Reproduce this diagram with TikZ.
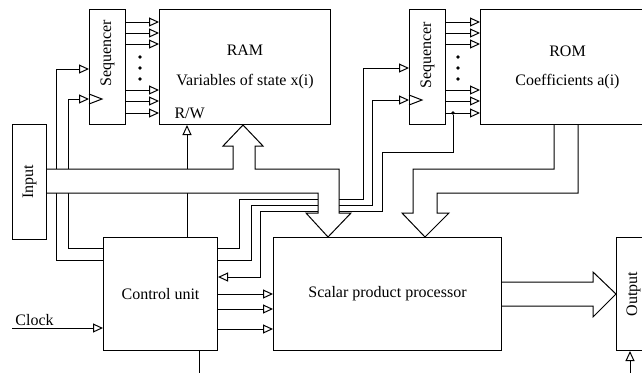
\documentclass[tikz,border=0pt]{standalone}
\usepackage{fontspec}
\setmainfont{Liberation Serif}
\usetikzlibrary{arrows.meta, positioning}

\begin{document}
\begin{tikzpicture}[
    x=0.5pt, y=-0.5pt,
    font=\fontsize{8}{9.6}\selectfont,
    line width=0.5pt,
    block/.style={
      draw,
      align=center,
      inner sep=0pt,
      minimum height=57.5pt
    },
    seqbox/.style={block, minimum width=18pt},
    line/.style={-{Triangle[open, length=5pt, width=4.5pt]}},
    bus/.style={draw},
    dot/.style={circle, fill, inner sep=0pt, minimum size=1.8pt}
  ]

  \useasboundingbox (0,0) rectangle (642,372);

  % ===================== memories =====================
  \node[seqbox, anchor=north west] (seqA) at (89,9) {};
  \node[block, minimum width=85.5pt, right=16.5pt of seqA] (ram) {RAM\\[5pt]Variables of state x(i)};
  \node[seqbox, right=39pt of ram] (seqB) {};
  \node[block, minimum width=87pt, right=17pt of seqB] (rom) {ROM\\[5pt]Coefficients a(i)};

  \node[rotate=90] at ([yshift=7pt]seqA.center) {Sequencer};
  \node[rotate=90] at ([yshift=6pt]seqB.center) {Sequencer};
  \node[anchor=base west, inner sep=0pt] at ([shift={(15,-7)}]ram.south west) {R/W};

  % ===================== processing =====================
  \node[block, minimum width=17pt, anchor=north west] (input) at (12,124) {\rotatebox{90}{Input}};
  \node[block, minimum width=57pt, minimum height=56.5pt, anchor=north west] (ctrl) at (103,237) {Control unit};
  \node[block, minimum width=114pt, minimum height=56.5pt, right=27.5pt of ctrl] (spp) {Scalar product processor};
  \node[block, minimum width=17pt, minimum height=56.5pt, right=57pt of spp] (out) {\rotatebox{90}{Output}};

  \coordinate (clk) at (12,328);
  \coordinate (ctrlout) at (199,375);
  \coordinate (outin) at (630,375);
  \node[dot] (eos) at (453,113) {};

  % ===================== sequencer outputs =====================
  \foreach \y in {22,33,44,90,101,113} {
    \draw[line] (seqA.east |- 0,\y) -- (ram.west |- 0,\y);
    \draw[line] (seqB.east |- 0,\y) -- (rom.west |- 0,\y);
  }
  \foreach \y in {57,68,79} {
    \fill (140,\y) circle (0.9pt);
    \fill (458,\y) circle (0.9pt);
  }

  % clock symbols
  \draw (seqA.west |- 0,94) -- ++(13,5) -- ++(-13,5);
  \draw (seqB.west |- 0,95) -- ++(13,5) -- ++(-13,5);

  % ===================== control lines =====================
  \draw[line] (ctrl.west |- 0,260) -| (56,69) -- (seqA.west |- 0,69);
  \draw[line] (ctrl.west |- 0,248) -| (68,99) -- (seqA.west |- 0,99);
  \draw[line] (ctrl.north -| 187,0) -- (ram.south -| 187,0);
  \draw[line] (ctrl.east |- 0,248) -| (239,199) -| (363,68) -- (seqB.west |- 0,68);
  \draw[line] (ctrl.east |- 0,260) -| (251,205) -| (372,100) -- (seqB.west |- 0,100);
  \draw[line] (eos) |- (382,152) |- (260,211) |- (ctrl.east |- 0,277);

  \foreach \y in {294,309,329}
    \draw[line] (ctrl.east |- 0,\y) -- (spp.west |- 0,\y);

  \draw[line] (clk) -- (ctrl.west |- clk);
  \node[anchor=base west, inner sep=0pt] at ([shift={(3,-3)}]clk) {Clock};
  \draw (ctrl.south -| ctrlout) -- (ctrlout);
  \draw[line] (outin) -- (out.south -| outin);

  % ===================== buses =====================
  \draw[bus, fill=white] (input.east |- 0,169) -- (233,169) -- (233,146) -- (223,146)
    -- (ram.south -| 243,0) -- (263,146) -- (255,146) -- (255,169) -- (339,169)
    -- (339,213) -- (351,213) -- (spp.north -| 328,0) -- (306,213) -- (318,213)
    -- (318,193) -- (input.east |- 0,193);
  \draw[bus] (rom.south -| 554,0) -- (554,169) -- (413,169) -- (413,213) -- (402,213)
    -- (spp.north -| 425,0) -- (449,213) -- (437,213) -- (437,193) -- (578,193)
    -- (rom.south -| 578,0);
  \draw[bus] (spp.east |- 0,282) -- (593,282) -- (593,272) -- (out.west |- 0,294)
    -- (593,317) -- (593,306) -- (spp.east |- 0,306);

\end{tikzpicture}
\end{document}
